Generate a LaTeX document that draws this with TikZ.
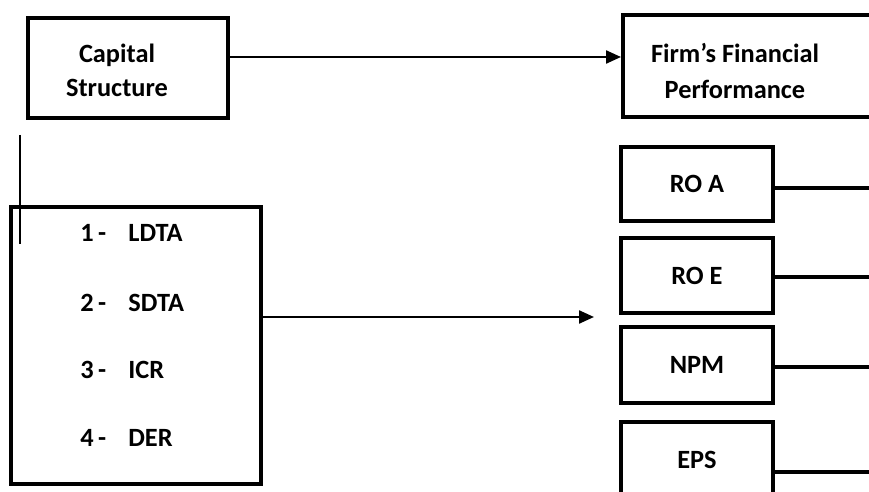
\documentclass[tikz,border=0pt]{standalone}
\usepackage{fontspec}
\setmainfont{Carlito}
\usepackage{tikz}
\usetikzlibrary{arrows.meta,positioning}

\begin{document}
\begin{tikzpicture}[x=0.02cm,y=-0.02cm,
  font=\fontsize{15}{19.4}\selectfont\bfseries,
  box/.style={draw,line width=2pt,inner sep=0pt,align=center},
  sbox/.style={box,minimum width=3.04cm,minimum height=1.5cm},
  txt/.style={align=center,inner sep=0pt},
  item/.style={anchor=west,inner sep=0pt},
  arr/.style={-{Triangle[length=0.3cm,width=0.26cm]},line width=1.3pt},
  link/.style={line width=2.1pt}]
  \useasboundingbox (0,0) rectangle (869,492);
  \clip (0,0) rectangle (869,492);
  % top row
  \node[box,minimum width=4cm,minimum height=2cm] (cap) at (128,68) {};
  \node[txt] (captxt) at (117,70) {Capital\\Structure};
  \node[box,anchor=west,minimum width=6cm,minimum height=2.04cm] (firm) at (621,66) {};
  \node[txt,font=\fontsize{15}{20.5}\selectfont\bfseries] (firmtxt) at (735,71) {Firm’s Financial\\Performance};
  \coordinate (capout) at ([yshift=0.22cm]cap.east);
  \draw[arr] (capout) -- (capout -| firm.west);
  % stray rule
  \coordinate (rtop) at (20,135);
  \coordinate (rbot) at (20,244);
  \draw[line width=0.9pt] (rtop) -- (rbot);
  % proxies
  \node[box,minimum width=5cm,minimum height=5.54cm] (lft) at (136,345.5) {};
  \node[item] (n1) at (80,233) {1\,-};
  \node[item] (v1) at (128,233) {LDTA};
  \node[item] (n2) at (80,303) {2\,-};
  \node[item] (v2) at (128,303) {SDTA};
  \node[item] (n3) at (80,370) {3\,-};
  \node[item] (v3) at (128,370) {ICR};
  \node[item] (n4) at (80,438) {4\,-};
  \node[item] (v4) at (128,438) {DER};
  \coordinate (tipend) at (594,317);
  \draw[arr] (lft.east |- tipend) -- (tipend);
  % measures
  \node[sbox,minimum height=1.48cm] (roa) at (697,184) {RO A};
  \node[sbox] (roe) at (697,275.5) {RO E};
  \node[sbox,minimum height=1.52cm] (npm) at (697,365) {NPM};
  \node[sbox,minimum height=1.52cm] (eps) at (697,460) {EPS};
  \coordinate (roaend) at (869,188);
  \coordinate (roeend) at (869,277);
  \coordinate (npmend) at (869,367);
  \coordinate (epsend) at (869,472);
  \draw[link] (roa.east |- roaend) -- (roaend);
  \draw[link] (roe.east |- roeend) -- (roeend);
  \draw[link] (npm.east |- npmend) -- (npmend);
  \draw[link] (eps.east |- epsend) -- (epsend);
\end{tikzpicture}
\end{document}
